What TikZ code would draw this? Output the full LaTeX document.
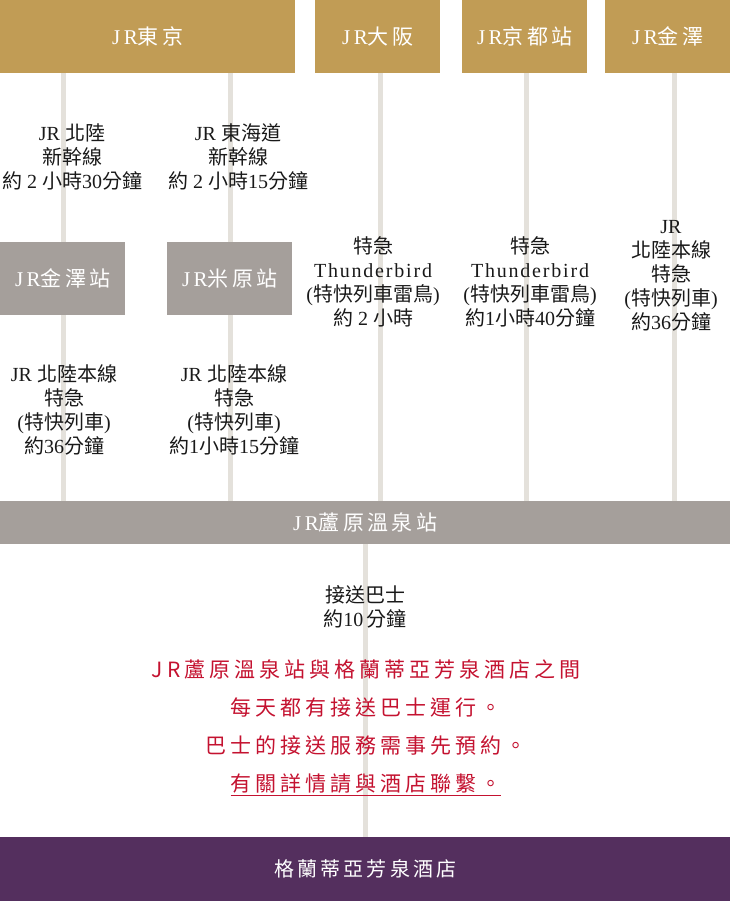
\documentclass[tikz,border=0pt]{standalone}
\usepackage{fontspec}
\setmainfont{Liberation Serif}
\newfontfamily\cjk{Noto Sans CJK TC}
\newfontfamily\cjkwide[LetterSpace=16]{Noto Sans CJK TC}
\newfontfamily\cjkred[LetterSpace=19]{Noto Sans CJK TC}
\newfontfamily\latwide[LetterSpace=9]{Liberation Serif}
\newcommand\zh[1]{{\cjk #1}}
\newcommand\zw[1]{{\cjkwide #1}}
\definecolor{gold}{HTML}{C19C55}
\definecolor{stone}{HTML}{A59F9B}
\definecolor{railgray}{HTML}{E4E1DB}
\definecolor{plum}{HTML}{542F5E}
\definecolor{notered}{HTML}{C41230}
\tikzset{
  city/.style={fill=gold,text=white,minimum height=73,inner sep=0,anchor=north west,
    font=\fontsize{21}{24}\selectfont},
  transfer/.style={fill=stone,text=white,minimum width=125,minimum height=73,inner sep=0,
    anchor=north west,font=\fontsize{21}{24}\selectfont},
  rail/.style={draw=railgray,line width=5},
  route/.style={align=center,inner sep=0,text=black!90,font=\fontsize{20}{24}\selectfont},
}
\begin{document}
\begin{tikzpicture}[x=1pt,y=-1pt]
        \useasboundingbox (0,0) rectangle (730,901);
        %% Departure cities
        \node[city,minimum width=295] (tokyo) at (0,0) {J\,R\zw{東京}};
        \node[city,minimum width=125] (osaka) at (315,0) {J\,R\zw{大阪}};
        \node[city,minimum width=125] (kyoto) at (462,0) {J\,R\zw{京都站}};
        \node[city,minimum width=125] (kanazawa) at (605,0) {J\,R\zw{金澤}};
        %% Transfer stations
        \node[transfer] (kzst) at (0,242) {J\,R\zw{金澤站}};
        \node[transfer] (maibara) at (167,242) {J\,R\zw{米原站}};
        %% Arrival and hotel
        \node[fill=stone,text=white,minimum width=730,minimum height=43,inner sep=0,anchor=north west,
          font=\fontsize{21}{24}\selectfont] (onsen) at (0,501) {J\,R\zw{蘆原溫泉站}};
        \node[fill=plum,text=white,minimum width=730,minimum height=64,inner sep=0,anchor=north west,
          font=\fontsize{20}{24}\selectfont] (hotel) at (0,837) {\zw{格蘭蒂亞芳泉酒店}};
        %% Rails
        \draw[rail] ([xshift=1]kzst.north) -- ([xshift=1]kzst.north |- tokyo.south);
        \draw[rail] ([xshift=1]maibara.north) -- ([xshift=1]maibara.north |- tokyo.south);
        \draw[rail] ([xshift=1]kzst.south) -- ([xshift=1]kzst.south |- onsen.north);
        \draw[rail] ([xshift=1]maibara.south) -- ([xshift=1]maibara.south |- onsen.north);
        \draw[rail] ([xshift=3]osaka.south) -- ([xshift=3]osaka.south |- onsen.north);
        \draw[rail] ([xshift=2]kyoto.south) -- ([xshift=2]kyoto.south |- onsen.north);
        \draw[rail] ([xshift=7]kanazawa.south) -- ([xshift=7]kanazawa.south |- onsen.north);
        \draw[rail] (onsen.south) -- (onsen.south |- hotel.north);
        %% Routes
        \node[route] (tokyokz) at (72,157) {JR \zh{北陸}\\\zh{新幹線}\\\zh{約} 2 \zh{小時}30\zh{分鐘}};
        \node[route] (tokyomb) at (238,157) {JR \zh{東海道}\\\zh{新幹線}\\\zh{約} 2 \zh{小時}15\zh{分鐘}};
        \node[route] (osakart) at (373,282) {\zh{特急}\\{\latwide Thunderbird}\\(\zh{特快列車雷鳥})\\\zh{約} 2 \zh{小時}};
        \node[route] (kyotort) at (530,282) {\zh{特急}\\{\latwide Thunderbird}\\(\zh{特快列車雷鳥})\\\zh{約}1\zh{小時}40\zh{分鐘}};
        \node[route] (kanazawart) at (671,276) {JR\\\zh{北陸本線}\\\zh{特急}\\(\zh{特快列車})\\\zh{約}36\zh{分鐘}};
        \node[route] (kzrt) at (64,410) {JR \zh{北陸本線}\\\zh{特急}\\(\zh{特快列車})\\\zh{約}36\zh{分鐘}};
        \node[route] (maibarart) at (234,410) {JR \zh{北陸本線}\\\zh{特急}\\(\zh{特快列車})\\\zh{約}1\zh{小時}15\zh{分鐘}};
        \node[route] (bus) at (365,607) {\zh{接送巴士}\\\zh{約}10\,\zh{分鐘}};
        %% Notice
        \node[align=center,inner sep=0,text=notered,font=\fontsize{21}{38}\cjkred] (notice) at (366,728)
          {JR蘆原溫泉站與格蘭蒂亞芳泉酒店之間\\每天都有接送巴士運行。\\巴士的接送服務需事先預約。\\\underline{有關詳情請與酒店聯繫。}};
\end{tikzpicture}
\end{document}
